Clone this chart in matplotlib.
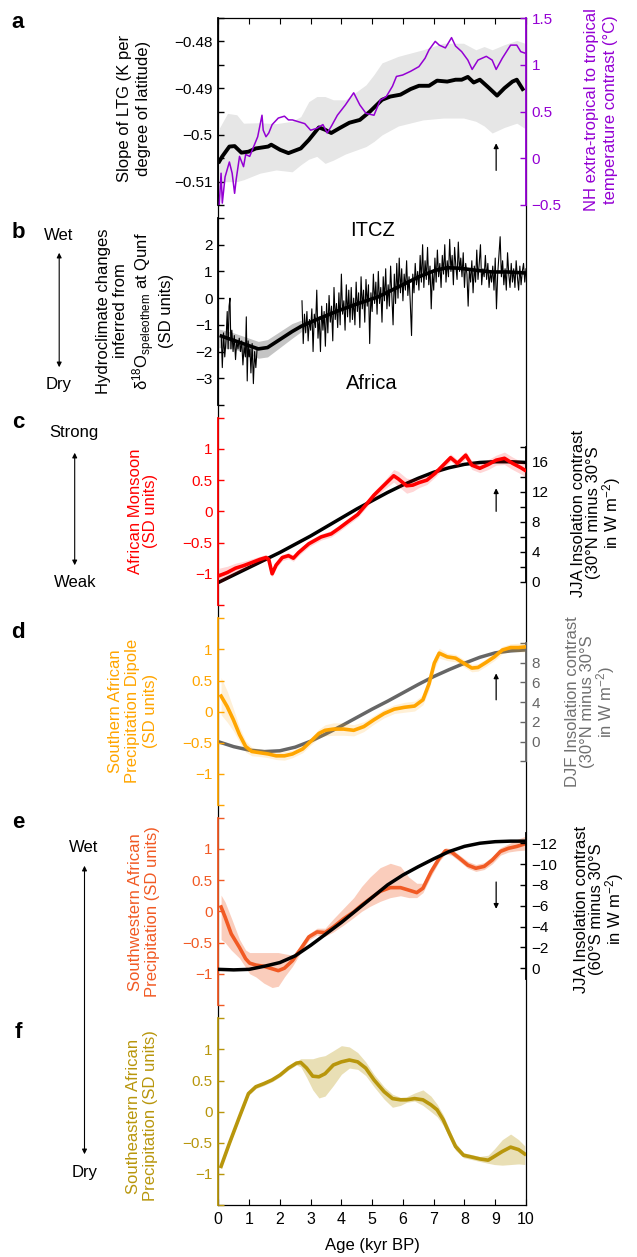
import numpy as np
import matplotlib.pyplot as plt
from matplotlib.patches import FancyArrowPatch

plt.rcParams['font.family'] = ['Liberation Sans', 'DejaVu Sans']
plt.rcParams['mathtext.fontset'] = 'custom'
plt.rcParams['mathtext.rm'] = 'Liberation Sans'
plt.rcParams['mathtext.it'] = 'Liberation Sans:italic'
plt.rcParams['mathtext.bf'] = 'Liberation Sans:bold'
plt.rcParams['font.size'] = 12

# ---------------- data ----------------
# a: latitudinal temperature gradient slope (black) and NH contrast (purple)
a_age = [0.03, 0.13, 0.36, 0.53, 0.75, 0.98, 1.22, 1.62, 1.72, 2.01, 2.28, 2.68, 2.94, 3.27, 3.47, 3.67,
         3.93, 4.26, 4.6, 4.93, 5.32, 5.59, 5.92, 6.25, 6.52, 6.85, 7.11, 7.44, 7.71, 7.91, 8.11, 8.3,
         8.5, 8.77, 9.06, 9.3, 9.56, 9.7, 9.89]
a_ltg = [-0.5057, -0.5046, -0.5025, -0.5024, -0.5038, -0.5036, -0.5029, -0.5025, -0.5021, -0.5032,
         -0.5039, -0.5029, -0.5011, -0.4984, -0.4989, -0.4996, -0.4986, -0.4974, -0.4968, -0.4950,
         -0.4925, -0.4918, -0.4914, -0.4902, -0.4895, -0.4895, -0.4884, -0.4886, -0.4882, -0.4882,
         -0.4876, -0.4888, -0.4882, -0.4898, -0.4916, -0.4900, -0.4886, -0.4882, -0.4902]
a_band_age = [0.03, 0.3, 0.6, 0.82, 1.35, 1.88, 2.4, 2.68, 2.94, 3.2, 3.47, 3.74, 4.13, 4.8, 5.06, 5.32,
              5.85, 6.65, 7.31, 7.97, 8.37, 8.64, 8.9, 9.3, 9.7, 9.96]
a_hi = [-0.4986, -0.4954, -0.4957, -0.4975, -0.4974, -0.4976, -0.4971, -0.4961, -0.4929, -0.4918,
        -0.4918, -0.4925, -0.4925, -0.4893, -0.4871, -0.4846, -0.4832, -0.4818, -0.4804, -0.4804,
        -0.4818, -0.4811, -0.4818, -0.4807, -0.4798, -0.4804]
a_lo = [-0.5100, -0.5100, -0.5100, -0.5096, -0.5082, -0.5075, -0.5079, -0.5064, -0.5052, -0.5046,
        -0.5061, -0.5054, -0.5041, -0.5025, -0.5014, -0.5000, -0.4981, -0.4968, -0.4964, -0.4964,
        -0.4971, -0.4981, -0.4996, -0.4984, -0.4975, -0.4986]
p_age = [0.03, 0.09, 0.13, 0.22, 0.36, 0.45, 0.53, 0.58, 0.69, 0.82, 0.89, 1.02, 1.15, 1.28, 1.42, 1.46,
         1.55, 1.64, 1.75, 1.95, 2.15, 2.28, 2.41, 2.61, 2.81, 3.0, 3.2, 3.4, 3.54, 3.67, 3.87, 4.13,
         4.4, 4.6, 4.8, 5.06, 5.26, 5.46, 5.66, 5.79, 5.99, 6.25, 6.52, 6.72, 6.85, 7.05, 7.18, 7.38,
         7.58, 7.71, 7.91, 8.11, 8.25, 8.44, 8.71, 8.9, 9.03, 9.23, 9.5, 9.7, 9.83, 9.96]
p_val = [-0.5, -0.16, -0.48, -0.2, -0.04, -0.16, -0.375, -0.23, 0.02, -0.09, 0.04, 0.02, 0.125, 0.23,
         0.46, 0.3, 0.23, 0.27, 0.36, 0.43, 0.45, 0.41, 0.41, 0.39, 0.37, 0.30, 0.32, 0.36, 0.27, 0.34,
         0.46, 0.57, 0.70, 0.57, 0.48, 0.46, 0.62, 0.66, 0.77, 0.875, 0.89, 0.93, 0.98, 1.07, 1.16,
         1.25, 1.21, 1.18, 1.29, 1.2, 1.14, 1.05, 0.95, 1.05, 1.09, 1.05, 0.95, 1.07, 1.21, 1.21, 1.14,
         1.125]

# b: Qunf speleothem record
b_raw1_age = [0.10, 0.13, 0.17, 0.21, 0.25, 0.29, 0.32, 0.35, 0.38, 0.41, 0.44, 0.48, 0.52, 0.56, 0.60,
              0.64, 0.68, 0.72, 0.76, 0.80, 0.84, 0.88, 0.91, 0.94, 0.97, 1.00, 1.03, 1.06, 1.10, 1.14,
              1.18, 1.22, 1.26]
b_raw1 = [-1.5, -2.6, -1.3, -2.2, -1.6, -0.5, -1.9, -0.3, 0.0, -1.9, -1.2, -2.0, -1.4, -2.3, -1.6,
          -1.9, -1.5, -2.0, -1.6, -2.5, -1.8, -2.2, -0.7, -3.1, -1.6, -2.2, -1.9, -2.8, -1.7, -3.2,
          -2.0, -2.6, -1.9]
b_raw2 = [-0.1, -1.7, -0.6, -1.3, -0.5, -1.6, -0.8, -1.2, -0.4, -2.0,
          -0.6, -1.1, 0.3, -1.5, -0.7, -2.0, -0.3, -1.2, -0.5, -1.8,
          -0.2, -1.3, 0.1, -0.9, -0.3, -1.6, 0.4, -0.8, -0.2, -1.1,
          0.2, -1.0, 0.9, -0.6, -0.1, -1.2, 0.5, -0.7, 0.3, -0.9,
          0.4, -0.8, 0.0, -1.0, 0.6, -0.5, 0.2, -1.1, 0.8, -0.4,
          0.3, -0.9, 0.7, -0.3, 0.5, -1.7, 0.2, -0.5, 0.9, -0.2,
          0.6, -0.6, 1.0, -0.2, 0.4, -0.9, 0.8, -0.1, 1.1, -0.4,
          0.5, -0.3, 1.2, 0.1, -1.0, 0.9, -0.2, 1.3, 0.0, 1.5,
          0.2, 1.1, -0.1, 0.9, 0.3, 1.4, 0.1, 0.8, -0.2, -1.4,
          0.9, 0.2, 1.3, 0.5, 1.0, 0.3, 1.6, 0.6, 2.0, 0.4,
          1.4, 0.7, 1.9, 0.5, 1.2, -0.4, 1.0, 0.3, 1.5, 0.6,
          1.8, 0.8, 1.3, 0.4, 1.6, 0.9, 2.0, 0.6, 1.4, 0.8,
          2.2, 1.0, 1.6, 0.5, 1.9, 1.2, 0.7, 2.1, 1.0, 1.5,
          0.8, 1.7, 0.4, 1.3, 0.9, -0.3, 1.1, 0.6, 1.4, 0.2,
          1.2, 0.6, 1.8, 0.7, 1.3, 2.0, 0.5, 1.1, 0.8, 1.6,
          0.7, 1.3, 0.4, 1.0, 0.6, 1.2, 0.3, 1.5, -0.4, 0.9,
          1.6, 2.3, 0.8, 1.4, 0.5, 1.1, 0.3, 1.7, 0.9, 0.4,
          1.3, 0.6, 1.1, 0.4, 1.4, 0.8, 0.3, 1.2, 0.5, 1.0,
          1.3, 0.6, 1.1]
b_raw2_age = np.linspace(2.72, 10.0, len(b_raw2))
b_fit_age = [0.1, 0.5, 1.0, 1.3, 1.6, 2.0, 2.4, 2.7, 3.2, 3.9, 4.5, 5.2, 5.85, 6.5, 7.05, 7.44, 7.84,
             8.4, 8.9, 9.4, 10.0]
b_fit = [-1.42, -1.58, -1.78, -1.9, -1.85, -1.55, -1.25, -1.05, -0.8, -0.47, -0.22, 0.05, 0.42, 0.79,
         1.04, 1.14, 1.12, 1.04, 0.98, 0.98, 0.94]
b_band_age = [0.0, 0.5, 1.0, 1.3, 1.6, 2.0, 2.4, 2.7]
b_hi = [-1.15, -1.3, -1.5, -1.62, -1.55, -1.25, -0.95, -0.82]
b_lo = [-1.85, -1.9, -2.1, -2.25, -2.2, -1.85, -1.5, -1.25]

# insolation curves (every 0.5 kyr)
ins_age = [0.0, 0.5, 1.0, 1.5, 2.0, 2.5, 3.0, 3.5, 4.0, 4.5, 5.0, 5.5, 6.0, 6.5, 7.0, 7.5, 8.0, 8.5,
           9.0, 9.5, 10.0]
c_ins = [-0.1, 0.9, 1.9, 2.9, 3.9, 5.0, 6.1, 7.3, 8.5, 9.7, 10.8, 11.9, 12.9, 13.8, 14.6, 15.2,
         15.65, 15.9, 16.0, 16.0, 15.9]
d_ins = [0.0, -0.5, -0.85, -1.0, -0.92, -0.55, 0.05, 0.8, 1.6, 2.45, 3.3, 4.1, 4.95, 5.8, 6.6, 7.3,
         7.95, 8.55, 9.0, 9.2, 9.3]
e_ins = [0.1, 0.15, 0.1, -0.2, -0.55, -1.2, -2.2, -3.3, -4.4, -5.6, -6.8, -8.0, -8.95, -9.75, -10.5,
         -11.2, -11.7, -12.0, -12.15, -12.2, -12.2]

# c: African monsoon
c_age = [0.03, 0.29, 0.56, 0.82, 1.09, 1.35, 1.55, 1.64, 1.75, 1.88, 2.08, 2.28, 2.44, 2.61, 2.94,
         3.34, 3.67, 3.93, 4.2, 4.53, 4.79, 5.06, 5.39, 5.7, 5.85, 6.12, 6.32, 6.52, 6.78, 7.05, 7.31,
         7.55, 7.77, 8.04, 8.24, 8.5, 8.77, 9.03, 9.3, 9.56, 9.83, 9.96]
c_val = [-1.03, -0.98, -0.91, -0.87, -0.82, -0.77, -0.74, -0.77, -1.0, -0.86, -0.74, -0.71, -0.75,
         -0.66, -0.52, -0.41, -0.36, -0.27, -0.17, -0.05, 0.10, 0.26, 0.42, 0.57, 0.52, 0.41, 0.42,
         0.46, 0.50, 0.61, 0.74, 0.86, 0.77, 0.90, 0.74, 0.69, 0.75, 0.82, 0.85, 0.77, 0.70, 0.66]
c_err = [0.12, 0.1, 0.08, 0.07, 0.06, 0.05, 0.05, 0.05, 0.05, 0.05, 0.05, 0.05, 0.05, 0.05, 0.05,
         0.05, 0.05, 0.05, 0.05, 0.05, 0.05, 0.06, 0.07, 0.1, 0.12, 0.12, 0.1, 0.08, 0.07, 0.06, 0.06,
         0.06, 0.06, 0.06, 0.07, 0.07, 0.08, 0.08, 0.1, 0.1, 0.1, 0.1]

# d: southern African precipitation dipole
d_age = [0.09, 0.29, 0.49, 0.69, 0.89, 1.09, 1.35, 1.62, 1.88, 2.15, 2.41, 2.74, 3.0, 3.27, 3.47,
         3.74, 4.07, 4.4, 4.73, 5.06, 5.39, 5.72, 6.05, 6.38, 6.65, 6.85, 7.02, 7.18, 7.44, 7.71,
         7.97, 8.24, 8.44, 8.7, 8.97, 9.23, 9.5, 9.76, 9.96]
d_val = [0.25, 0.08, -0.13, -0.37, -0.56, -0.64, -0.66, -0.68, -0.71, -0.71, -0.68, -0.60, -0.48,
         -0.35, -0.30, -0.28, -0.28, -0.30, -0.24, -0.13, -0.03, 0.04, 0.07, 0.09, 0.19, 0.45, 0.78,
         0.94, 0.88, 0.86, 0.78, 0.70, 0.71, 0.79, 0.88, 0.99, 1.03, 1.03, 1.04]
d_err = [0.3, 0.25, 0.18, 0.12, 0.09, 0.07, 0.06, 0.06, 0.06, 0.07, 0.06, 0.06, 0.06, 0.07, 0.09,
         0.1, 0.1, 0.09, 0.08, 0.07, 0.07, 0.07, 0.08, 0.08, 0.08, 0.1, 0.1, 0.08, 0.06, 0.06, 0.06,
         0.06, 0.06, 0.06, 0.06, 0.06, 0.06, 0.07, 0.08]

# e: southwestern African precipitation
e_age = [0.09, 0.22, 0.42, 0.69, 0.89, 1.02, 1.22, 1.48, 1.75, 1.95, 2.15, 2.41, 2.68, 2.94, 3.21,
         3.47, 3.74, 4.07, 4.4, 4.66, 4.93, 5.26, 5.59, 5.92, 6.19, 6.45, 6.65, 6.91, 7.18, 7.38,
         7.58, 7.84, 8.11, 8.37, 8.64, 8.9, 9.17, 9.43, 9.7, 9.96]
e_val = [0.07, -0.09, -0.36, -0.58, -0.76, -0.83, -0.86, -0.88, -0.92, -0.95, -0.91, -0.79, -0.6,
         -0.41, -0.33, -0.34, -0.25, -0.12, -0.01, 0.10, 0.20, 0.32, 0.38, 0.38, 0.34, 0.30, 0.37,
         0.63, 0.85, 0.97, 0.95, 0.85, 0.74, 0.69, 0.72, 0.82, 0.96, 1.01, 1.04, 1.08]
e_hi = [0.26, 0.15, -0.1, -0.45, -0.62, -0.66, -0.66, -0.66, -0.66, -0.66, -0.68, -0.7, -0.55,
        -0.36, -0.27, -0.27, -0.12, 0.05, 0.22, 0.4, 0.55, 0.7, 0.77, 0.72, 0.55, 0.45, 0.45, 0.7,
        0.9, 1.02, 1.0, 0.9, 0.8, 0.75, 0.78, 0.88, 1.02, 1.08, 1.15, 1.2]
e_lo = [-0.45, -0.5, -0.62, -0.75, -0.9, -1.0, -1.05, -1.15, -1.22, -1.2, -1.05, -0.88, -0.66,
        -0.46, -0.38, -0.4, -0.33, -0.22, -0.1, 0.0, 0.08, 0.16, 0.22, 0.25, 0.22, 0.22, 0.3, 0.56,
        0.8, 0.92, 0.9, 0.8, 0.69, 0.64, 0.67, 0.76, 0.9, 0.95, 0.97, 0.98]

# f: southeastern African precipitation
f_age = [0.09, 0.36, 0.69, 0.98, 1.22, 1.48, 1.75, 2.01, 2.28, 2.54, 2.68, 2.87, 3.07, 3.27, 3.47,
         3.74, 4.0, 4.26, 4.53, 4.79, 5.06, 5.39, 5.66, 5.92, 6.12, 6.38, 6.65, 6.91, 7.11, 7.31,
         7.51, 7.71, 7.97, 8.24, 8.5, 8.77, 8.97, 9.23, 9.5, 9.76, 9.96]
f_val = [-0.88, -0.51, -0.08, 0.29, 0.40, 0.45, 0.51, 0.59, 0.70, 0.78, 0.79, 0.70, 0.57, 0.56, 0.61,
         0.75, 0.80, 0.83, 0.80, 0.70, 0.51, 0.32, 0.21, 0.19, 0.19, 0.21, 0.19, 0.11, 0.03, -0.13,
         -0.35, -0.56, -0.70, -0.73, -0.76, -0.78, -0.72, -0.64, -0.57, -0.61, -0.68]
f_hi = [-0.86, -0.48, -0.05, 0.32, 0.43, 0.48, 0.54, 0.62, 0.73, 0.81, 0.85, 0.85, 0.85, 0.88, 0.9,
        0.98, 1.06, 1.04, 0.95, 0.8, 0.6, 0.4, 0.28, 0.23, 0.24, 0.3, 0.35, 0.25, 0.12, -0.05, -0.28,
        -0.5, -0.66, -0.69, -0.72, -0.7, -0.6, -0.45, -0.36, -0.45, -0.55]
f_lo = [-0.9, -0.54, -0.11, 0.26, 0.37, 0.42, 0.48, 0.56, 0.67, 0.75, 0.72, 0.55, 0.35, 0.22, 0.25,
        0.42, 0.6, 0.7, 0.68, 0.58, 0.4, 0.2, 0.07, 0.1, 0.15, 0.17, 0.1, 0.0, -0.08, -0.22, -0.42,
        -0.62, -0.74, -0.77, -0.8, -0.83, -0.85, -0.86, -0.85, -0.84, -0.85]

PURPLE = '#9400D3'
RED = '#FF0000'
ORANGE = '#FFA500'
SW = '#F15A24'
SE = '#B8960C'
GREY = '#666666'

# ---------------- layout helpers ----------------
W, H = 637, 1257
X0, X1 = 218.3, 526.0
fig = plt.figure(figsize=(W / 100, H / 100), dpi=100)


def fx(px):
    return px / W


def fy(py):
    return 1 - py / H


def rect(top, bot):
    return [fx(X0), fy(bot), fx(X1) - fx(X0), (bot - top) / H]


def lab(v):
    return ('%g' % v).replace('-', '\u2212')


def labels(ticks, shown):
    return [lab(t) if t in shown else '' for t in ticks]


def left_style(ax, color, ticks, shown, lim):
    ax.set_xlim(0, 10)
    ax.set_ylim(*lim)
    ax.patch.set_visible(False)
    for s in ('top', 'bottom', 'right'):
        ax.spines[s].set_visible(False)
    ax.spines['left'].set_color(color)
    ax.spines['left'].set_linewidth(1.3)
    ax.set_xticks([])
    ax.set_yticks(ticks, labels(ticks, shown))
    ax.tick_params(axis='y', colors=color, direction='in', length=4, width=1, pad=4, labelsize=11)


def right_style(ax, color, ticks, shown, lim, bounds=None):
    ax.set_ylim(*lim)
    for s in ('top', 'bottom', 'left'):
        ax.spines[s].set_visible(False)
    ax.spines['right'].set_color(color)
    ax.spines['right'].set_linewidth(1.3)
    if bounds is not None:
        ax.spines['right'].set_bounds(*bounds)
    ax.set_yticks(ticks, labels(ticks, shown))
    ax.tick_params(axis='y', colors=color, direction='in', length=4, width=1, pad=4, labelsize=11)


def arrow(ax, x, y0, y1):
    ax.annotate('', xy=(x, y1), xytext=(x, y0),
                arrowprops=dict(arrowstyle='-|>', color='k', lw=0.9, mutation_scale=7,
                                shrinkA=0, shrinkB=0))


def vlabel(x, y, text, color='k', ls=1.2):
    fig.text(fx(x), fy(y), text, rotation=90, ha='center', va='center', color=color,
             fontsize=12, multialignment='center', linespacing=ls)


# frame shared by all panels
frame = fig.add_axes(rect(18, 1205))
frame.set_xlim(0, 10)
frame.set_ylim(0, 1)
frame.set_yticks([])
frame.set_xticks(range(11))
frame.tick_params(axis='x', direction='in', top=True, length=4, width=0.8, pad=5, labelsize=11.5)
for s in frame.spines.values():
    s.set_linewidth(0.9)
frame.set_xlabel('Age (kyr BP)', fontsize=12, labelpad=8)

# ---- a ----
axa = fig.add_axes(rect(18, 205))
axa.fill_between(a_band_age, a_lo, a_hi, color='#e6e6e6', lw=0)
axa.plot(a_age, a_ltg, color='k', lw=2.8)
a_ticks = [-0.515, -0.51, -0.505, -0.5, -0.495, -0.49, -0.485, -0.48, -0.475]
left_style(axa, 'k', a_ticks, [-0.51, -0.5, -0.49, -0.48], (-0.515, -0.475))
axa2 = axa.twinx()
axa2.plot(p_age, p_val, color=PURPLE, lw=1.1)
right_style(axa2, PURPLE, [-0.5, 0, 0.5, 1, 1.5], [-0.5, 0, 0.5, 1, 1.5], (-0.5, 1.5))
arrow(axa, 9.03, -0.5076, -0.5018)

# ---- b ----
axb = fig.add_axes(rect(218, 405))
axb.fill_between(b_band_age, b_lo, b_hi, color='#c4c4c4', lw=0)
axb.plot(b_raw1_age, b_raw1, color='k', lw=0.8)
axb.plot(b_raw2_age, b_raw2, color='k', lw=0.8)
axb.plot(b_fit_age, b_fit, color='k', lw=2.6)
b_ticks = [-4, -3, -2, -1, 0, 1, 2, 3]
left_style(axb, 'k', b_ticks, [-3, -2, -1, 0, 1, 2], (-4, 3))
axb.text(5.0, 2.54, 'ITCZ', ha='center', va='center', fontsize=14.5)
axb.text(5.0, -3.18, 'Africa', ha='center', va='center', fontsize=14.5)

sd_ticks = [-1.5, -1, -0.5, 0, 0.5, 1, 1.5]
sd_shown = [-1, -0.5, 0, 0.5, 1]

# ---- c ----
axc = fig.add_axes(rect(417.7, 605))
axc2 = axc.twinx()
axc.set_zorder(2)
axc2.plot(ins_age, c_ins, color='k', lw=2.5)
lo = [v - e for v, e in zip(c_val, c_err)]
hi = [v + e for v, e in zip(c_val, c_err)]
axc.fill_between(c_age, lo, hi, color=RED, alpha=0.16, lw=0)
axc.plot(c_age, c_val, color=RED, lw=2.6)
left_style(axc, RED, sd_ticks, sd_shown, (-1.5, 1.5))
right_style(axc2, 'k', list(range(0, 19, 2)), [0, 4, 8, 12, 16], (-3.1, 21.87), (0, 18))
arrow(axc, 9.03, 0.0, 0.37)

# ---- d ----
axd = fig.add_axes(rect(618.3, 805))
axd2 = axd.twinx()
axd.set_zorder(2)
axd2.plot(ins_age, d_ins, color=GREY, lw=2.5)
lo = [v - e for v, e in zip(d_val, d_err)]
hi = [v + e for v, e in zip(d_val, d_err)]
axd.fill_between(d_age, lo, hi, color=ORANGE, alpha=0.16, lw=0)
axd.plot(d_age, d_val, color=ORANGE, lw=2.6)
left_style(axd, ORANGE, sd_ticks, sd_shown, (-1.5, 1.5))
right_style(axd2, GREY, list(range(-2, 11, 2)), [0, 2, 4, 6, 8], (-6.41, 12.5), (-2, 10))
arrow(axd, 9.03, 0.19, 0.615)

# ---- e ----
axe = fig.add_axes(rect(817.7, 1005))
axe2 = axe.twinx()
axe.fill_between(e_age, e_lo, e_hi, color=SW, alpha=0.3, lw=0)
axe.plot(e_age, e_val, color=SW, lw=2.6)
axe2.plot(ins_age, e_ins, color='k', lw=2.5)
left_style(axe, SW, sd_ticks, sd_shown, (-1.5, 1.5))
right_style(axe2, 'k', list(range(-12, 1, 2)), list(range(-12, 1, 2)), (3.52, -14.45), (-13, 1))
arrow(axe, 9.03, 0.47, 0.04)

# ---- f ----
axf = fig.add_axes(rect(1018.3, 1205))
axf.fill_between(f_age, f_lo, f_hi, color=SE, alpha=0.3, lw=0)
axf.plot(f_age, f_val, color=SE, lw=2.6)
left_style(axf, SE, sd_ticks, sd_shown, (-1.5, 1.5))

# ---- axis titles ----
vlabel(134, 108, 'Slope of LTG (K per\ndegree of latitude)', ls=1.4)
vlabel(135, 311, 'Hydroclimate changes\ninferred from\n'
       '\u03b4$^{18}$O$_{\\mathrm{speleothem}}$ at Qunf\n(SD units)', ls=1.15)
vlabel(143, 511, 'African Monsoon\n(SD units)', color=RED, ls=1.05)
vlabel(133, 711, 'Southern African\nPrecipitation Dipole\n(SD units)', color=ORANGE, ls=1.25)
vlabel(144, 912, 'Southwestern African\nPrecipitation (SD units)', color=SW, ls=1.15)
vlabel(142, 1116, 'Southeastern African\nPrecipitation (SD units)', color=SE, ls=1.15)

vlabel(601, 110, 'NH extra-tropical to tropical\ntemperature contrast (\u00b0C)', color=PURPLE, ls=1.35)
vlabel(597, 513, 'JJA Insolation contrast\n(30\u00b0N minus 30\u00b0S\nin W m$^{-2}$)', ls=0.95)
vlabel(591, 702, 'DJF Insolation contrast\n(30\u00b0N minus 30\u00b0S\nin W m$^{-2}$)', color='#707070', ls=0.95)
vlabel(600, 909, 'JJA Insolation contrast\n(60\u00b0S minus 30\u00b0S\nin W m$^{-2}$)', ls=0.95)

# panel letters
for letter, y in zip('abcdef', [23, 232, 423, 632, 823, 1032]):
    fig.text(fx(18), fy(y), letter, fontsize=16, fontweight='bold', ha='center', va='center')

# wet / dry and strong / weak indicators
def double_arrow(x, y0, y1):
    fig.add_artist(FancyArrowPatch((fx(x), fy(y0)), (fx(x), fy(y1)), transform=fig.transFigure,
                                   arrowstyle='<|-|>', mutation_scale=7, lw=0.8, color='k'))


fig.text(fx(59), fy(235), 'Wet', ha='center', va='center', fontsize=12)
double_arrow(59.2, 250, 370)
fig.text(fx(59), fy(385), 'Dry', ha='center', va='center', fontsize=12)
fig.text(fx(74), fy(432), 'Strong', ha='center', va='center', fontsize=12)
double_arrow(74.7, 450, 568)
fig.text(fx(75), fy(582), 'Weak', ha='center', va='center', fontsize=12)
fig.text(fx(84), fy(848), 'Wet', ha='center', va='center', fontsize=12)
double_arrow(84.5, 863, 1157)
fig.text(fx(85), fy(1173), 'Dry', ha='center', va='center', fontsize=12)

fig.savefig('out.png', dpi=100)
